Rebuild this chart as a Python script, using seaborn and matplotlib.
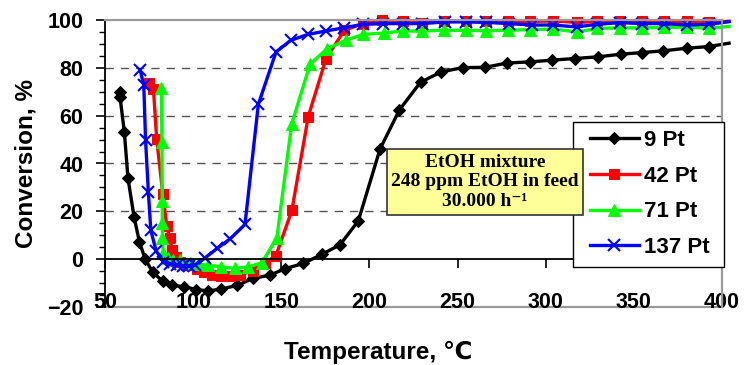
import matplotlib
matplotlib.use("Agg")
import matplotlib.pyplot as plt
import seaborn as sns
import numpy as np
from matplotlib.ticker import MultipleLocator
from matplotlib.patches import Rectangle

# ---------------- data ----------------
t_9 = [58.5, 58.5, 61, 63, 66.5, 69.5, 72.8, 77, 82.7, 88.2, 95, 101.8, 108.6, 115.6, 125, 134, 143.6,
       152, 162.5, 173, 183.3, 193.7, 206, 217, 229, 240.8, 253, 265.5, 278, 291, 303.5, 316.4, 329.6,
       342.7, 354.8, 366.6, 380, 392.4, 404]
c_9 = [70, 68, 53, 34, 17.6, 7.3, 0, -5.3, -9.3, -11, -11.5, -12.7, -13.3, -12.5, -11, -8, -6.7,
       -4, -1.8, 2, 6, 16, 46, 62.4, 74, 78.3, 80.1, 80.2, 82, 82.5, 83.2, 83.9, 84.6,
       85.7, 86.4, 87.1, 88.2, 88.9, 90.3]

t_42 = [75, 77.5, 79.3, 82.8, 85, 86.7, 88, 90, 92.5, 96, 102, 106, 110.5, 116, 121, 126.6, 134, 141,
        147, 156, 165.3, 175.4, 185.8, 196.1, 207, 218.8, 229.6, 242.2, 254.8, 266, 278.5, 291.3, 304,
        318, 329.3, 342, 354.8, 367, 380.3, 392.7, 404]
c_42 = [73.5, 71, 50.3, 27.2, 14, 9, 4, 1, -1, -2.5, -4, -5.5, -6.8, -7.2, -7.2, -6.5, -4.8, -1.5,
        1.5, 20.4, 59.6, 83.9, 95.7, 98.5, 99.8, 99.6, 98.9, 99.6, 99.6, 99.4, 99.4, 99.4, 99.6,
        99, 99.4, 99.6, 99.4, 99.4, 99.4, 99, 99.5]

t_71 = [82, 82.3, 82.5, 82.5, 82.6, 83, 86, 88.7, 92.5, 98, 103, 108.6, 116, 123.7, 131.3, 139, 147.5,
        155.9, 166.3, 176, 186.6, 196.5, 208, 218.8, 230, 242.2, 254.8, 266, 278.5, 291, 304, 318,
        329.3, 342, 354.8, 367, 380.3, 392.7, 404]
c_71 = [71.5, 49, 24.5, 15, 9, 2.4, 0.3, -0.4, -0.5, -1.8, -2.2, -2.5, -3.2, -3.9, -3.2, -1.5, 9,
        56.5, 81.5, 88, 91.5, 94, 94.5, 95.4, 95.4, 95.7, 95.7, 95.5, 95.7, 96, 96.2, 95,
        96.5, 96.7, 96.7, 96.9, 97, 96.5, 97.3]

t_137 = [69.9, 72, 73, 74.6, 76, 79, 83, 87, 90.6, 94.4, 97.5, 101, 106.7, 113.6, 121, 129.4, 137,
         147, 155.3, 165.3, 175.4, 185.8, 196.5, 207.9, 218.8, 230, 242.7, 254.8, 266.3, 279.3, 292,
         304.3, 317.5, 329.2, 342.1, 354.8, 367.1, 380.3, 392.7, 404]
c_137 = [79.2, 72.8, 50, 28, 12, 3.5, -1, -2, -2.5, -3, -3, -2.5, 0.5, 4.5, 8.5, 14.5, 64.8,
         86.6, 91.5, 94, 95.4, 96.8, 98.2, 98.5, 98.5, 98.5, 99.2, 99.2, 99, 98.5, 97.9,
         97.9, 97.1, 98.2, 98.9, 98.5, 98.5, 97.9, 98.2, 99.3]

series_labels = ["9 Pt", "42 Pt", "71 Pt", "137 Pt"]
x_ticks = [50, 100, 150, 200, 250, 300, 350, 400]
y_ticks = [-20, 0, 20, 40, 60, 80, 100]
note_lines = ["EtOH mixture", "248 ppm EtOH in feed", "30.000 h\u207b\u00b9"]

# ---------------- figure ----------------
sans = ["Liberation Sans", "DejaVu Sans"]
serif = ["Liberation Serif", "DejaVu Serif"]
plt.rcParams["font.family"] = sans
plt.rcParams["font.weight"] = "bold"

W, H = 746, 365
fig = plt.figure(figsize=(W / 100, H / 100), dpi=100)
L, R, T, B = 105, 722, 20, 307
ax = fig.add_axes([L / W, 1 - B / H, (R - L) / W, (B - T) / H])


def ax_x(px):
    return (px - L) / (R - L)


def ax_y(py):
    return 1 - (py - T) / (B - T)


styles = [
    (t_9, c_9, "#000000", "D", 6.5, {}),
    (t_42, c_42, "#FF0000", "s", 7.5, {}),
    (t_71, c_71, "#00FF00", "^", 8.5, {}),
    (t_137, c_137, "#0000FF", "x", 8.5, {"markeredgewidth": 1.5}),
]
for (tx, cy, col, mk, ms, extra), lab in zip(styles, series_labels):
    n = len(tx)
    sns.lineplot(x=tx, y=cy, ax=ax, color=col, marker=mk, markersize=ms,
                 markeredgecolor=col, markerfacecolor=col, linewidth=2.4,
                 sort=False, estimator=None, label=lab, clip_on=False,
                 markevery=list(range(n - 1)), **extra)

ax.set_xlim(50, 400)
ax.set_ylim(-20, 100)

# spines
ax.spines["bottom"].set_position(("data", 0))
ax.spines["bottom"].set_linewidth(1.3)
ax.spines["left"].set_linewidth(1.3)
for s in ("top", "right"):
    ax.spines[s].set_color("#999999")
    ax.spines[s].set_linewidth(1.6)
ax.axhline(-20, color="#999999", lw=1.6, clip_on=False, zorder=1)

# grid
for gy in [20, 40, 60, 80]:
    ax.axhline(gy, color="#555555", lw=1.0, ls=(0, (6, 5)), zorder=0.5)

ax.set_xticks(x_ticks)
ax.set_yticks(y_ticks)
ax.yaxis.set_minor_locator(MultipleLocator(5))
ax.tick_params(axis="y", which="major", direction="out", length=6.5, width=1.2,
               labelsize=15.5, pad=9)
ax.tick_params(axis="y", which="minor", direction="out", length=4.2, width=1.0)
ax.tick_params(axis="x", which="major", direction="out", length=6.5, width=1.2,
               labelsize=15.5, pad=17)
for lbl in ax.get_xticklabels() + ax.get_yticklabels():
    lbl.set_fontweight("bold")

ax.set_xlabel("")
ax.set_ylabel("Conversion, %", fontsize=17.5, fontweight="bold", labelpad=7)
fig.text(378 / W, 1 - 352 / H, "Temperature, \u2103", ha="center", va="center",
         fontsize=17.5, fontweight="bold", family=sans)

# legend: frame drawn as a rectangle, entries placed inside it
ax.add_patch(Rectangle((ax_x(573), ax_y(267)), ax_x(724) - ax_x(573), ax_y(122) - ax_y(267),
                       transform=ax.transAxes, facecolor="white", edgecolor="black",
                       lw=1.0, clip_on=False, zorder=4.5))
leg = ax.legend(loc="upper left", bbox_to_anchor=(ax_x(590), ax_y(130)),
                frameon=False, prop={"family": sans, "weight": "bold", "size": 16},
                handlelength=2.2, handletextpad=0.25, labelspacing=0.66,
                borderpad=0, borderaxespad=0)
leg.set_zorder(5)

ax.text(ax_x(485), ax_y(182), "\n".join(note_lines),
        transform=ax.transAxes, ha="center", va="center", fontsize=14,
        fontweight="bold", family=serif, linespacing=1.2, zorder=10,
        bbox=dict(boxstyle="square,pad=0.24", facecolor="#FFFF99", edgecolor="#333333", lw=1.2))

fig.savefig("out.png", dpi=100)
